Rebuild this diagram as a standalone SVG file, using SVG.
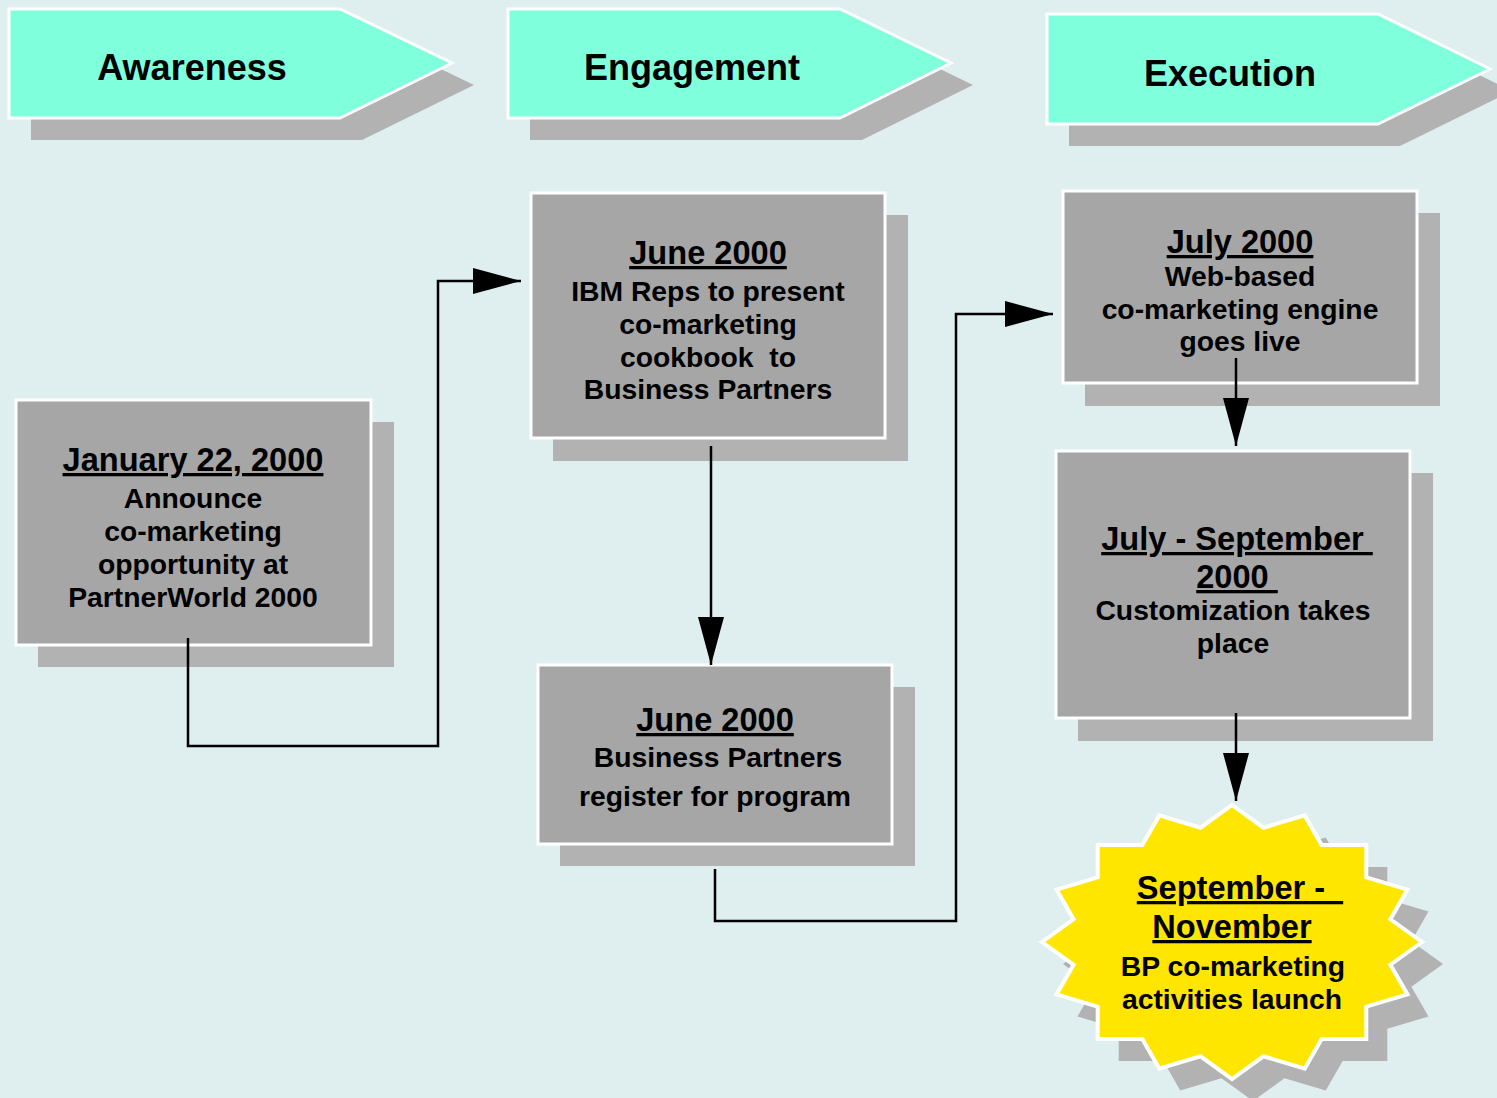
<svg xmlns="http://www.w3.org/2000/svg" xmlns:xlink="http://www.w3.org/1999/xlink" width="1497" height="1098" viewBox="0 0 1497 1098">
  <style>
    .bg { fill: #DFEFEF; }
    .shadow { fill: #B2B2B2; }
    .chev { fill: #7FFFDB; stroke: #FFFFFF; stroke-width: 3; }
    .box { fill: #A6A6A6; stroke: #FFFFFF; stroke-width: 3; }
    .star { fill: #FFE600; stroke: #FFFFFF; stroke-width: 4; }
    text { font-family: "Liberation Sans", Arial, sans-serif; font-weight: bold; fill: #000000; text-anchor: middle; white-space: pre; }
    .phase { font-size: 36px; }
    .title { font-size: 32.6px; text-decoration: underline; }
    .body { font-size: 28.3px; }
    .line { fill: none; stroke: #000000; stroke-width: 2.5; }
  </style>
  <defs>
    <marker id="arrow" viewBox="0 0 48 26" refX="48" refY="13" markerWidth="48" markerHeight="26" markerUnits="userSpaceOnUse" orient="auto">
      <path d="M0,0 L48,13 L0,26 Z" fill="#000000"/>
    </marker>
    <polygon id="burst" points="1232,805 1263.5,827.7 1304.7,815.4 1321.7,845.1 1366.3,845.1 1366.3,877.3 1407.5,889.6 1390.4,919.3 1422,942 1390.4,964.7 1407.5,994.4 1366.3,1006.7 1366.3,1038.9 1321.7,1038.9 1304.7,1068.6 1263.5,1056.3 1232,1079 1200.5,1056.3 1159.3,1068.6 1142.3,1038.9 1097.7,1038.9 1097.7,1006.7 1056.5,994.4 1073.6,964.7 1042,942 1073.6,919.3 1056.5,889.6 1097.7,877.3 1097.7,845.1 1142.3,845.1 1159.3,815.4 1200.5,827.7"/>
  </defs>

  <rect class="bg" x="0" y="0" width="1497" height="1098"/>

  <!-- phase banners -->
  <g id="phase-awareness">
    <polygon class="shadow" points="31,31 362,31 474,85 362,140 31,140"/>
    <polygon class="chev" points="9,9 340,9 452,63 340,118 9,118"/>
    <text class="phase" x="192" y="80">Awareness</text>
  </g>
  <g id="phase-engagement">
    <polygon class="shadow" points="530,31 862,31 973,85 862,140 530,140"/>
    <polygon class="chev" points="508,9 840,9 951,63 840,118 508,118"/>
    <text class="phase" x="692" y="80">Engagement</text>
  </g>
  <g id="phase-execution">
    <polygon class="shadow" points="1069,36 1400,36 1512,91 1400,146 1069,146"/>
    <polygon class="chev" points="1047,14 1378,14 1490,69 1378,124 1047,124"/>
    <text class="phase" x="1230" y="86">Execution</text>
  </g>

  <!-- milestone boxes -->
  <g id="box-jan">
    <rect class="shadow" x="38" y="422" width="356" height="245"/>
    <rect class="box" x="16" y="400" width="355" height="245"/>
    <text class="title" x="193" y="471">January 22, 2000</text>
    <text class="body" x="193" y="508">Announce</text>
    <text class="body" x="193" y="541">co-marketing</text>
    <text class="body" x="193" y="574">opportunity at</text>
    <text class="body" x="193" y="607">PartnerWorld 2000</text>
  </g>

  <g id="box-june-reps">
    <rect class="shadow" x="553" y="215" width="355" height="246"/>
    <rect class="box" x="531" y="193" width="354" height="245"/>
    <text class="title" x="708" y="264">June 2000</text>
    <text class="body" x="708" y="301">IBM Reps to present</text>
    <text class="body" x="708" y="334">co-marketing</text>
    <text class="body" x="708" y="367">cookbook  to</text>
    <text class="body" x="708" y="399">Business Partners</text>
  </g>

  <g id="box-june-register">
    <rect class="shadow" x="560" y="687" width="355" height="179"/>
    <rect class="box" x="538" y="665" width="354" height="179"/>
    <text class="title" x="715" y="731">June 2000</text>
    <text class="body" x="718" y="767">Business Partners</text>
    <text class="body" x="715" y="806">register for program</text>
  </g>

  <g id="box-july">
    <rect class="shadow" x="1085" y="213" width="355" height="193"/>
    <rect class="box" x="1063" y="191" width="354" height="192"/>
    <text class="title" x="1240" y="253">July 2000</text>
    <text class="body" x="1240" y="286">Web-based</text>
    <text class="body" x="1240" y="319">co-marketing engine</text>
    <text class="body" x="1240" y="351">goes live</text>
  </g>

  <g id="box-july-sept">
    <rect class="shadow" x="1078" y="473" width="355" height="268"/>
    <rect class="box" x="1056" y="451" width="354" height="267"/>
    <text class="title" x="1237" y="550">July - September </text>
    <text class="title" x="1237" y="588">2000 </text>
    <text class="body" x="1233" y="620">Customization takes</text>
    <text class="body" x="1233" y="653">place</text>
  </g>

  <g id="burst-launch">
    <use xlink:href="#burst" class="shadow" transform="translate(21,22)"/>
    <use xlink:href="#burst" class="star"/>
    <text class="title" x="1240" y="899">September -  </text>
    <text class="title" x="1232" y="938">November</text>
    <text class="body" x="1233" y="976">BP co-marketing</text>
    <text class="body" x="1232" y="1009">activities launch</text>
  </g>

  <!-- connectors -->
  <g id="connectors">
    <polyline class="line" points="188,638 188,746 438,746 438,281 521,281" marker-end="url(#arrow)"/>
    <polyline class="line" points="711,446 711,665" marker-end="url(#arrow)"/>
    <polyline class="line" points="715,869 715,921 956,921 956,314 1053,314" marker-end="url(#arrow)"/>
    <polyline class="line" points="1236,358 1236,446" marker-end="url(#arrow)"/>
    <polyline class="line" points="1236,713 1236,801" marker-end="url(#arrow)"/>
  </g>
</svg>
